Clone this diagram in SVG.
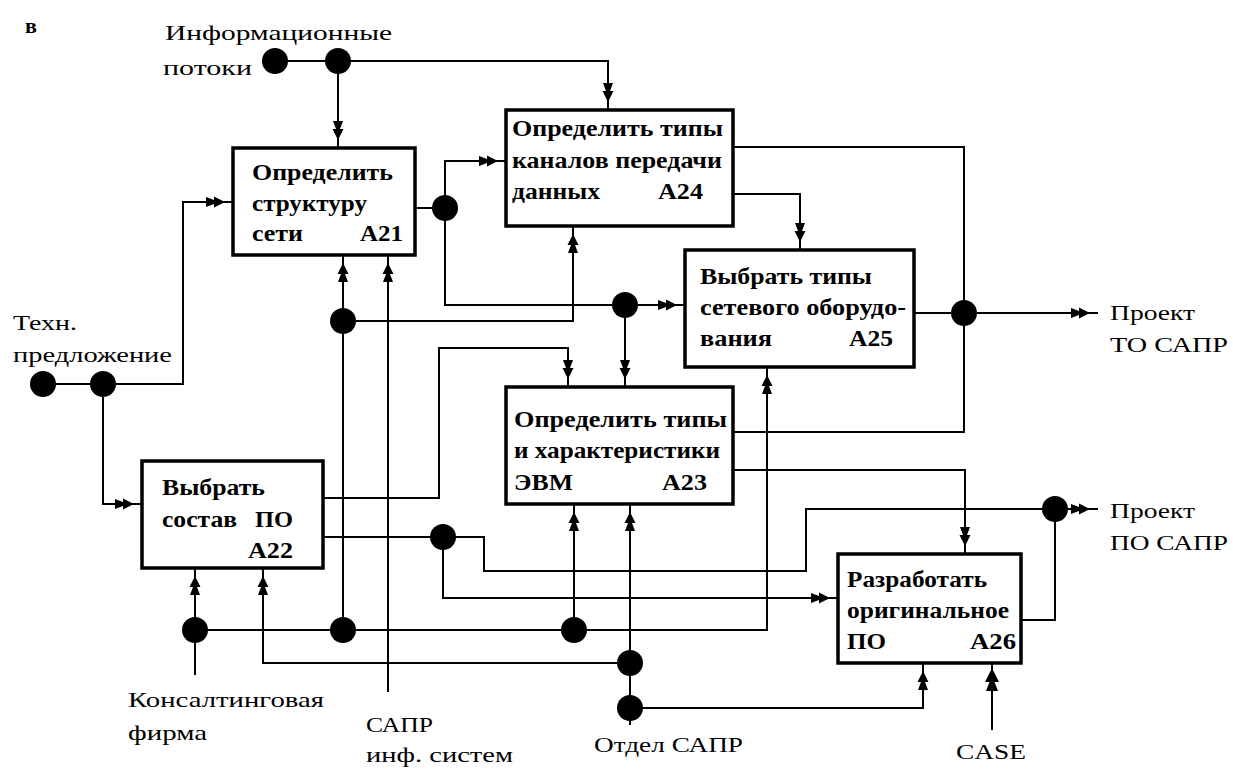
<svg xmlns="http://www.w3.org/2000/svg" width="1233" height="771" viewBox="0 0 1233 771">
<style>
.box{fill:#fff;stroke:#000;stroke-width:3.5}
.ln{fill:none;stroke:#000;stroke-width:2}
.ar{marker-end:url(#arr)}
.dot{fill:#000}
</style>
<defs>
<marker id="arr" markerUnits="userSpaceOnUse" markerWidth="30" markerHeight="14" viewBox="0 -7 30 14" refX="27" refY="0" orient="auto" overflow="visible">
<path d="M0,-5 L8,-2 L8,-5.5 L19,0 L8,5.5 L8,2 L0,5 Z" fill="#000"/>
</marker>
<marker id="arrL" markerUnits="userSpaceOnUse" markerWidth="30" markerHeight="16" viewBox="0 -8 30 16" refX="28" refY="0" orient="auto" overflow="visible">
<path d="M0,-6 L9,-2.5 L9,-7 L23,0 L9,7 L9,2.5 L0,6 Z" fill="#000"/>
</marker>
</defs>
<rect width="1233" height="771" fill="#fff"/>

<g id="connectors">
<path class="ln ar" d="M275,61 H608 V110"/>
<path class="ln ar" d="M338,61 V148"/>
<path class="ln ar" d="M43,384 H183 V202 H233"/>
<path class="ln ar" d="M103,384 V504 H142"/>
<path class="ln" d="M415,208 H445"/>
<path class="ln ar" d="M445,208 V161 H506"/>
<path class="ln" d="M445,208 V305 H625"/>
<path class="ln ar" d="M625,305 H685"/>
<path class="ln ar" d="M625,305 V387"/>
<path class="ln" d="M733,147 H964 V432 H733"/>
<path class="ln" d="M914,313 H964"/>
<path class="ln ar" d="M964,313 H1098"/>
<path class="ln ar" d="M733,194 H800 V250"/>
<path class="ln ar" d="M733,470 H965 V554"/>
<path class="ln ar" d="M323,498 H439 V348 H568 V387"/>
<path class="ln" d="M323,537 H443"/>
<path class="ln" d="M443,537 H484 V571 H806 V509 H1055"/>
<path class="ln ar" d="M1055,509 H1098"/>
<path class="ln" d="M1020,620 H1055 V509"/>
<path class="ln ar" d="M443,537 V598 H838"/>
<path class="ln ar" d="M195,675 V568"/>
<path class="ln ar" d="M195,630 H767 V367"/>
<path class="ln ar" d="M574,630 V504"/>
<path class="ln ar" d="M343,630 V255"/>
<path class="ln ar" d="M343,321 H573 V226"/>
<path class="ln ar" d="M388,692 V255"/>
<path class="ln ar" d="M630,725 V504"/>
<path class="ln ar" d="M630,663 H263 V568"/>
<path class="ln ar" d="M630,708 H923 V663"/>
<path d="M992,730 V663" class="ln" marker-end="url(#arrL)"/>
<g id="junctions">
<circle class="dot" cx="275" cy="61" r="13"/>
<circle class="dot" cx="338" cy="61" r="13"/>
<circle class="dot" cx="43" cy="384" r="13"/>
<circle class="dot" cx="103" cy="384" r="13"/>
<circle class="dot" cx="445" cy="208" r="13"/>
<circle class="dot" cx="625" cy="305" r="13"/>
<circle class="dot" cx="343" cy="321" r="13"/>
<circle class="dot" cx="964" cy="313" r="13"/>
<circle class="dot" cx="443" cy="537" r="13"/>
<circle class="dot" cx="1055" cy="509" r="13"/>
<circle class="dot" cx="195" cy="630" r="13"/>
<circle class="dot" cx="343" cy="630" r="13"/>
<circle class="dot" cx="574" cy="630" r="13"/>
<circle class="dot" cx="630" cy="663" r="13"/>
<circle class="dot" cx="630" cy="708" r="13"/>
</g>
</g>

<g font-family="Liberation Serif, DejaVu Serif, serif" font-weight="bold" font-size="23" fill="#000" lengthAdjust="spacingAndGlyphs">
<g id="A21">
<rect class="box" x="233" y="148" width="182" height="107"/>
<text x="252" y="180" textLength="141" lengthAdjust="spacingAndGlyphs">Определить</text>
<text x="252" y="211" textLength="115" lengthAdjust="spacingAndGlyphs">структуру</text>
<text x="252" y="241" textLength="51" lengthAdjust="spacingAndGlyphs">сети</text>
<text x="360" y="241" textLength="43" lengthAdjust="spacingAndGlyphs">A21</text>
</g>
<g id="A24">
<rect class="box" x="506" y="110" width="227" height="116"/>
<text x="512" y="136" textLength="211" lengthAdjust="spacingAndGlyphs">Определить типы</text>
<text x="512" y="168" textLength="210" lengthAdjust="spacingAndGlyphs">каналов передачи</text>
<text x="512" y="199" textLength="88" lengthAdjust="spacingAndGlyphs">данных</text>
<text x="658" y="199" textLength="45" lengthAdjust="spacingAndGlyphs">A24</text>
</g>
<g id="A25">
<rect class="box" x="685" y="250" width="229" height="117"/>
<text x="700" y="284" textLength="172" lengthAdjust="spacingAndGlyphs">Выбрать типы</text>
<text x="700" y="315" textLength="206" lengthAdjust="spacingAndGlyphs">сетевого оборудо-</text>
<text x="700" y="346" textLength="72" lengthAdjust="spacingAndGlyphs">вания</text>
<text x="849" y="346" textLength="44" lengthAdjust="spacingAndGlyphs">A25</text>
</g>
<g id="A23">
<rect class="box" x="506" y="387" width="227" height="117"/>
<text x="514" y="427" textLength="213" lengthAdjust="spacingAndGlyphs">Определить типы</text>
<text x="514" y="458" textLength="206" lengthAdjust="spacingAndGlyphs">и характеристики</text>
<text x="514" y="490" textLength="59" lengthAdjust="spacingAndGlyphs">ЭВМ</text>
<text x="662" y="490" textLength="45" lengthAdjust="spacingAndGlyphs">A23</text>
</g>
<g id="A22">
<rect class="box" x="142" y="461" width="181" height="107"/>
<text x="162" y="495" textLength="103" lengthAdjust="spacingAndGlyphs">Выбрать</text>
<text x="162" y="527" textLength="75" lengthAdjust="spacingAndGlyphs">состав</text>
<text x="255" y="527" textLength="38" lengthAdjust="spacingAndGlyphs">ПО</text>
<text x="248" y="558" textLength="45" lengthAdjust="spacingAndGlyphs">A22</text>
</g>
<g id="A26">
<rect class="box" x="838" y="554" width="183" height="109"/>
<text x="847" y="587" textLength="140" lengthAdjust="spacingAndGlyphs">Разработать</text>
<text x="847" y="618" textLength="162" lengthAdjust="spacingAndGlyphs">оригинальное</text>
<text x="847" y="649" textLength="39" lengthAdjust="spacingAndGlyphs">ПО</text>
<text x="970" y="649" textLength="46" lengthAdjust="spacingAndGlyphs">A26</text>
</g>
<text x="25" y="33" font-size="22">в</text>
</g>

<g id="labels" font-family="Liberation Serif, DejaVu Serif, serif" font-size="22" fill="#000">
<text x="165" y="40" textLength="227" lengthAdjust="spacingAndGlyphs">Информационные</text>
<text x="163" y="75" textLength="89" lengthAdjust="spacingAndGlyphs">потоки</text>
<text x="13" y="330" textLength="64" lengthAdjust="spacingAndGlyphs">Техн.</text>
<text x="13" y="362" textLength="159" lengthAdjust="spacingAndGlyphs">предложение</text>
<text x="128" y="707" textLength="196" lengthAdjust="spacingAndGlyphs">Консалтинговая</text>
<text x="128" y="740" textLength="79" lengthAdjust="spacingAndGlyphs">фирма</text>
<text x="366" y="732" textLength="67" lengthAdjust="spacingAndGlyphs">САПР</text>
<text x="366" y="762" textLength="147" lengthAdjust="spacingAndGlyphs">инф. систем</text>
<text x="594" y="752" textLength="149" lengthAdjust="spacingAndGlyphs">Отдел САПР</text>
<text x="956" y="759" textLength="70" lengthAdjust="spacingAndGlyphs">CASE</text>
<text x="1110" y="320" textLength="85" lengthAdjust="spacingAndGlyphs">Проект</text>
<text x="1110" y="352" textLength="118" lengthAdjust="spacingAndGlyphs">ТО САПР</text>
<text x="1110" y="518" textLength="85" lengthAdjust="spacingAndGlyphs">Проект</text>
<text x="1110" y="550" textLength="118" lengthAdjust="spacingAndGlyphs">ПО САПР</text>
</g>
</svg>
